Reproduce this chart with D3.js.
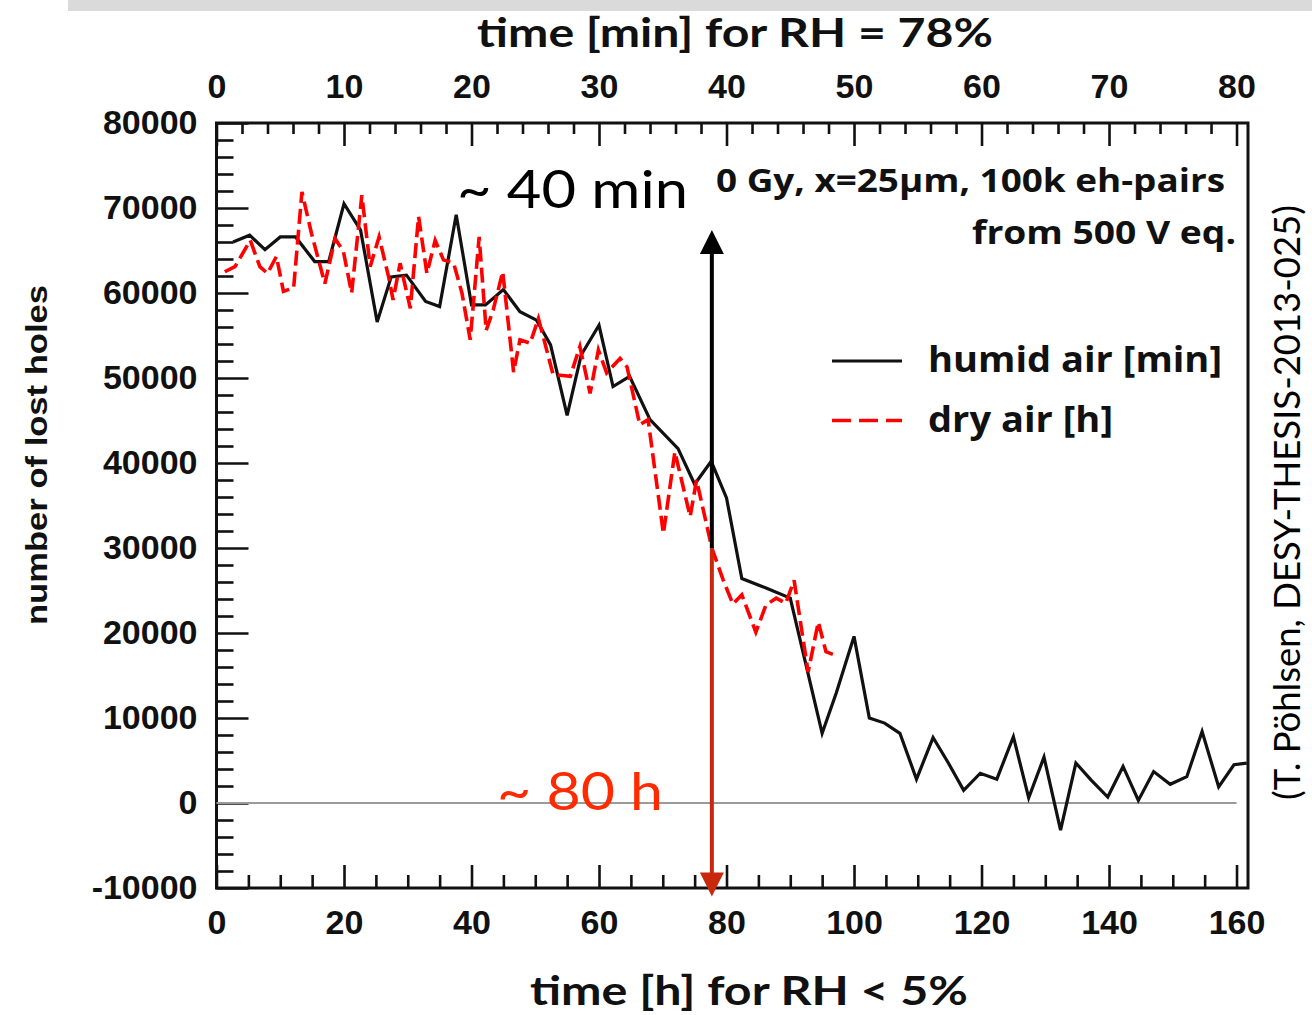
<!DOCTYPE html>
<html>
<head>
<meta charset="utf-8">
<script src="https://cdn.jsdelivr.net/npm/d3@7"></script>
<style>
  html, body { margin: 0; padding: 0; background: #fff; }
  svg { display: block; }
</style>
</head>
<body>
<svg id="chart" width="1312" height="1015"></svg>
<script>
// Humid air run: time in minutes (top axis) vs number of lost holes
const humidMin = [1.3, 2.6, 3.8, 5.0, 6.2, 7.7, 8.8, 10.0, 11.3, 12.6, 13.7, 14.9, 16.4, 17.5, 18.8, 20.0,
  21.1, 22.5, 23.8, 25.1, 26.2, 27.5, 28.6, 30.0, 31.1, 32.4, 34.0, 36.2, 37.5, 38.8, 40.0, 41.2, 43.1,
  45.0, 47.5, 48.6, 50.0, 51.2, 52.4, 53.6, 54.9, 56.2, 57.4, 58.6, 59.9, 61.2, 62.5, 63.7, 64.9, 66.2,
  67.4, 68.6, 69.9, 71.1, 72.3, 73.5, 74.8, 76.1, 77.3, 78.6, 79.8, 80.8];
const humidLost = [66000, 66800, 65100, 66600, 66600, 63700, 63700, 70500, 67400, 56600, 61900, 62100,
  59000, 58400, 69200, 58600, 58600, 60400, 57800, 56800, 53900, 45600, 52700, 56200, 49000, 50200,
  45100, 41700, 37500, 40200, 35900, 26400, 25300, 24100, 8200, 12900, 19600, 10000, 9400, 8200, 2800,
  7700, 4700, 1500, 3500, 2800, 7800, 600, 5400, -3200, 4700, 2700, 700, 4300, 300, 3700, 2200, 3100,
  8400, 1900, 4500, 4700];

// Dry air run: time in hours (bottom axis) vs number of lost holes
const dryH = [1.3, 2.9, 5.3, 6.8, 8.0, 9.4, 10.5, 12.1, 13.4, 14.9, 17.0, 18.6, 19.9, 21.2, 22.8, 24.1,
  25.5, 27.0, 27.7, 28.8, 30.4, 31.7, 33.0, 34.3, 35.6, 37.2, 38.5, 39.8, 41.2, 42.3, 43.4, 44.9, 46.6,
  47.6, 49.2, 50.5, 52.8, 55.5, 57.0, 58.6, 59.9, 61.2, 63.3, 64.4, 66.4, 67.7, 70.1, 71.9, 74.3, 75.3,
  77.7, 79.5, 81.0, 82.4, 84.6, 86.2, 87.8, 89.3, 90.6, 92.8, 94.4, 95.6, 97.0];
const dryLost = [62500, 63100, 66200, 63100, 62300, 64300, 60200, 60600, 71900, 67000, 61100, 66400,
  64900, 60000, 71500, 63100, 66600, 61900, 59200, 63500, 58200, 69000, 62300, 66200, 63900, 63500,
  60000, 54500, 66600, 55600, 58000, 62500, 50700, 54500, 54100, 57000, 50400, 50200, 53700, 48200,
  53300, 50600, 52300, 51300, 44500, 45100, 31700, 41300, 33700, 38000, 30000, 26200, 23400, 24500,
  20100, 23300, 24100, 23500, 26200, 15400, 21300, 17800, 17400];

// Axis ticks
const bottomMajor = [0, 20, 40, 60, 80, 100, 120, 140, 160];
const bottomMinor = d3.range(0, 161, 5).filter(v => v % 20 !== 0);
const topMajor = [0, 10, 20, 30, 40, 50, 60, 70, 80];
const topMinor = d3.range(0, 81, 2).filter(v => v % 10 !== 0);
const leftMajor = [-10000, 0, 10000, 20000, 30000, 40000, 50000, 60000, 70000, 80000];
const leftMinor = d3.range(-10000, 80001, 2000).filter(v => v % 10000 !== 0);

// Arrow marking the ~80 h / ~40 min crossing
const crossingH = 77.7;
const crossingLost = 30000;
const arrowTopLost = 67400;
const arrowBottomLost = -11000;

const svg = d3.select("#chart");

const xH = d3.scaleLinear().domain([0, 161.8]).range([216.5, 1248]);
const xM = d3.scaleLinear().domain([0, 80.9]).range([216.5, 1248]);
const y = d3.scaleLinear().domain([-10000, 80000]).range([888, 123]);

// plain integer labels with an ASCII hyphen for negatives
const intFmt = d => String(Math.round(d));

// gray strip along the top edge
svg.append("rect").attr("x", 68).attr("y", 0).attr("width", 1244).attr("height", 11).attr("fill", "#dadada");

const tickFont = "'Liberation Sans', Arial, sans-serif";

function styleAxis(g, labelSize) {
  g.select(".domain").remove();
  g.selectAll(".tick line").attr("stroke", "#111").attr("stroke-width", 2.6);
  g.selectAll(".tick text")
    .attr("fill", "#111")
    .style("font-family", tickFont)
    .style("font-weight", "bold")
    .style("font-size", labelSize + "px");
}

// bottom axis (hours)
svg.append("g").attr("transform", `translate(0,${y.range()[0]})`)
  .call(d3.axisBottom(xH).tickValues(bottomMinor).tickSizeInner(-13).tickSizeOuter(0).tickFormat(""))
  .call(g => styleAxis(g, 34));
svg.append("g").attr("transform", `translate(0,${y.range()[0]})`)
  .call(d3.axisBottom(xH).tickValues(bottomMajor).tickSizeInner(-23).tickSizeOuter(0).tickPadding(22).tickFormat(intFmt))
  .call(g => styleAxis(g, 34));

// top axis (minutes)
svg.append("g").attr("transform", `translate(0,${y.range()[1]})`)
  .call(d3.axisTop(xM).tickValues(topMinor).tickSizeInner(-11).tickSizeOuter(0).tickFormat(""))
  .call(g => styleAxis(g, 34));
svg.append("g").attr("transform", `translate(0,${y.range()[1]})`)
  .call(d3.axisTop(xM).tickValues(topMajor).tickSizeInner(-23).tickSizeOuter(0).tickPadding(25).tickFormat(intFmt))
  .call(g => styleAxis(g, 34));

// left axis
svg.append("g").attr("transform", `translate(${xH.range()[0]},0)`)
  .call(d3.axisLeft(y).tickValues(leftMinor).tickSizeInner(-17).tickSizeOuter(0).tickFormat(""))
  .call(g => styleAxis(g, 34));
svg.append("g").attr("transform", `translate(${xH.range()[0]},0)`)
  .call(d3.axisLeft(y).tickValues(leftMajor).tickSizeInner(-32).tickSizeOuter(0).tickPadding(19).tickFormat(intFmt))
  .call(g => styleAxis(g, 34));

// frame
svg.append("rect")
  .attr("x", xH.range()[0]).attr("y", y.range()[1])
  .attr("width", xH.range()[1] - xH.range()[0]).attr("height", y.range()[0] - y.range()[1])
  .attr("fill", "none").attr("stroke", "#111").attr("stroke-width", 3);

// zero line
svg.append("line")
  .attr("x1", xH(0)).attr("x2", xH(160)).attr("y1", y(0)).attr("y2", y(0))
  .attr("stroke", "#9a9a9a").attr("stroke-width", 2);

// data lines
const humidLine = d3.line().x((d, i) => xM(humidMin[i])).y(d => y(d));
const dryLine = d3.line().x((d, i) => xH(dryH[i])).y(d => y(d));

svg.append("path").datum(humidLost)
  .attr("d", humidLine).attr("fill", "none")
  .attr("stroke", "#111").attr("stroke-width", 3.2).attr("stroke-linejoin", "miter");

svg.append("path").datum(dryLost)
  .attr("d", dryLine).attr("fill", "none")
  .attr("stroke", "#ff0000").attr("stroke-width", 3.6).attr("stroke-dasharray", "15,6");

// crossing arrows
const ax = xH(crossingH);
const headLen = 24, headHalf = 12;
svg.append("line")
  .attr("x1", ax).attr("x2", ax).attr("y1", y(crossingLost)).attr("y2", y(arrowTopLost) + headLen - 2)
  .attr("stroke", "#000").attr("stroke-width", 4);
svg.append("path")
  .attr("d", `M${ax},${y(arrowTopLost)} L${ax - headHalf},${y(arrowTopLost) + headLen} L${ax + headHalf},${y(arrowTopLost) + headLen} Z`)
  .attr("fill", "#000");
svg.append("line")
  .attr("x1", ax).attr("x2", ax).attr("y1", y(crossingLost)).attr("y2", y(arrowBottomLost) - headLen + 2)
  .attr("stroke", "#c8280c").attr("stroke-width", 4);
svg.append("path")
  .attr("d", `M${ax},${y(arrowBottomLost)} L${ax - headHalf},${y(arrowBottomLost) - headLen} L${ax + headHalf},${y(arrowBottomLost) - headLen} Z`)
  .attr("fill", "#c8280c");

// text helper with fixed extent
function label(opts) {
  const t = svg.append("text")
    .attr("x", opts.x).attr("y", opts.y)
    .attr("fill", opts.fill || "#111")
    .style("font-family", opts.family)
    .style("font-weight", opts.weight || "normal")
    .style("font-size", opts.size + "px")
    .text(opts.text);
  if (opts.anchor) t.attr("text-anchor", opts.anchor);
  if (opts.len) t.attr("textLength", opts.len).attr("lengthAdjust", "spacingAndGlyphs");
  if (opts.rotate) t.attr("transform", `rotate(${opts.rotate},${opts.x},${opts.y})`);
  return t;
}

const gill = "Lato, 'Open Sans', sans-serif";
const calibri = "'Open Sans', 'Noto Sans', sans-serif";

label({ x: 477, y: 47, text: "time [min] for RH = 78%", family: gill, weight: "bold", size: 40, len: 516 });
label({ x: 530, y: 1005, text: "time [h] for RH < 5%", family: gill, weight: "bold", size: 40, len: 438 });
label({ x: 47, y: 625, text: "number of lost holes", family: tickFont, weight: "bold", size: 29, len: 340, rotate: -90 });

label({ x: 716, y: 192, text: "0 Gy, x=25µm, 100k eh-pairs", family: calibri, weight: "bold", size: 32, len: 509 });
label({ x: 972, y: 244, text: "from 500 V eq.", family: calibri, weight: "bold", size: 32, len: 264 });

label({ x: 457, y: 208, text: "~ 40 min", family: gill, size: 52, len: 231, fill: "#000" });
label({ x: 497, y: 810, text: "~ 80 h", family: gill, size: 52, len: 166, fill: "#ff2a00" });

// legend
svg.append("line").attr("x1", 832).attr("x2", 902).attr("y1", y(52000)).attr("y2", y(52000))
  .attr("stroke", "#111").attr("stroke-width", 3.2);
svg.append("line").attr("x1", 832).attr("x2", 902).attr("y1", y(45000)).attr("y2", y(45000))
  .attr("stroke", "#ff0000").attr("stroke-width", 3.6).attr("stroke-dasharray", "19,8");
label({ x: 928, y: 372, text: "humid air [min]", family: calibri, weight: "bold", size: 36, len: 294 });
label({ x: 928, y: 432, text: "dry air [h]", family: calibri, weight: "bold", size: 36, len: 185 });

// source note
label({ x: 1300, y: 800, text: "(T. Pöhlsen, DESY-THESIS-2013-025)", family: gill, size: 36, len: 595, fill: "#000", rotate: -90 });
</script>
</body>
</html>
